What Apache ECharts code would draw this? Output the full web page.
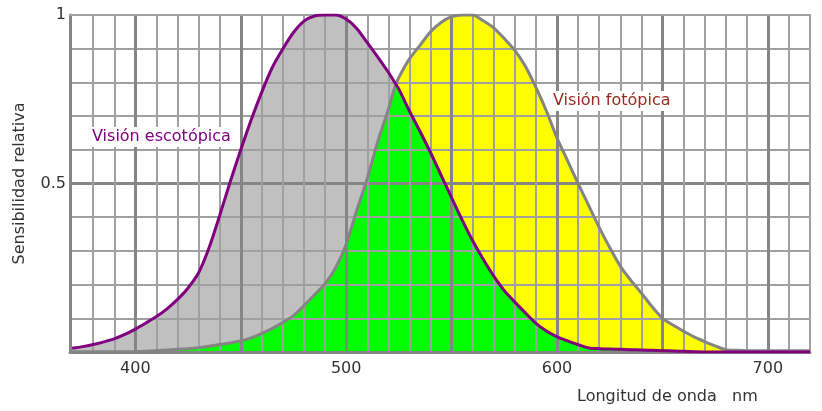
<!DOCTYPE html>
<html>
<head>
<meta charset="utf-8">
<title>Sensibilidad relativa del ojo</title>
<script src="https://cdn.jsdelivr.net/npm/echarts@6/dist/echarts.min.js"></script>
<style>
  html, body { margin: 0; padding: 0; background: #fff; }
  #chart { width: 822px; height: 411px; }
</style>
</head>
<body>
<div id="chart"></div>
<script>
// Wavelengths (nm), mostly every 5 nm, plus the point where both curves cross
const wavelengths = [
  370, 375, 380, 385, 390, 395, 400, 405, 410, 415, 420, 425, 430, 435, 440, 445,
  450, 455, 460, 465, 470, 475, 480, 485, 490, 495, 500, 505, 510, 515, 520, 523, 525,
  530, 535, 540, 545, 550, 555, 560, 565, 570, 575, 580, 585, 590, 595, 600, 605,
  610, 615, 620, 625, 630, 635, 640, 645, 650, 655, 660, 665, 670, 675, 680, 685,
  690, 695, 700, 705, 710, 715, 720
];

// Scotopic (night) relative sensitivity
const scotopic = [
  0.011, 0.016, 0.022, 0.030, 0.039, 0.052, 0.068, 0.086, 0.105, 0.128, 0.156, 0.190, 0.235, 0.310, 0.405, 0.505,
  0.600, 0.690, 0.772, 0.845, 0.900, 0.948, 0.982, 0.997, 1.000, 1.000, 0.988, 0.960, 0.918, 0.875, 0.830, 0.800, 0.780,
  0.715, 0.655, 0.592, 0.525, 0.458, 0.392, 0.330, 0.275, 0.225, 0.182, 0.148, 0.116, 0.085, 0.062, 0.045, 0.033,
  0.022, 0.012, 0.010, 0.009, 0.008, 0.007, 0.006, 0.005, 0.004, 0.003, 0.002, 0.001, 0.000, 0.000, 0.000, 0.000,
  0.000, 0.000, 0.000, 0.000, 0.000, 0.000, 0.000
];

// Photopic (daylight) relative sensitivity
const photopic = [
  0.001, 0.001, 0.001, 0.001, 0.001, 0.001, 0.001, 0.002, 0.004, 0.006, 0.008, 0.010, 0.013, 0.017, 0.022, 0.027,
  0.033, 0.042, 0.055, 0.070, 0.088, 0.108, 0.138, 0.170, 0.203, 0.250, 0.320, 0.420, 0.515, 0.625, 0.720, 0.785, 0.815,
  0.870, 0.910, 0.950, 0.978, 0.995, 1.000, 1.000, 0.983, 0.962, 0.930, 0.895, 0.848, 0.785, 0.715, 0.635, 0.568,
  0.500, 0.435, 0.370, 0.310, 0.255, 0.213, 0.175, 0.135, 0.100, 0.080, 0.062, 0.045, 0.031, 0.018, 0.007, 0.005,
  0.004, 0.004, 0.004, 0.004, 0.004, 0.004, 0.004
];

// Axis ticks and labels
const xLabelTicks = [400, 500, 600, 700];
const xMajorGrid = [400, 450, 500, 550, 600, 650, 700];
const xMinorGrid = [380, 390, 410, 420, 430, 440, 460, 470, 480, 490, 510, 520, 530, 540,
  560, 570, 580, 590, 610, 620, 630, 640, 660, 670, 680, 690, 710];
const yLabelTicks = [0.5, 1];
const yMajorGrid = [0.5];
const yMinorGrid = [0.1, 0.2, 0.3, 0.4, 0.6, 0.7, 0.8, 0.9];

const scotopicLabel = 'Visión escotópica';
const photopicLabel = 'Visión fotópica';

const pairs = vals => wavelengths.map((w, i) => [w, vals[i]]);
// Region where both curves overlap: below the lower of the two
const overlap = wavelengths.map((w, i) => [w, Math.min(scotopic[i], photopic[i])]);

const FONT = '"DejaVu Sans", Verdana, sans-serif';
const thin = { color: '#a0a0a0', width: 2 };
const thick = { color: '#858585', width: 3 };
const SMOOTH = 0.25;

const chart = echarts.init(document.getElementById('chart'), null, { renderer: 'canvas' });

chart.setOption({
  animation: false,
  backgroundColor: '#ffffff',
  grid: { left: 70, top: 15, width: 740, height: 337, containLabel: false },
  xAxis: [
    {
      type: 'value', min: 369, max: 720, position: 'bottom',
      axisLine: { show: true, onZero: false, lineStyle: thick },
      axisTick: { show: false, customValues: xMinorGrid },
      splitLine: { show: true, lineStyle: thin },
      axisLabel: {
        show: true, customValues: xLabelTicks, margin: 9,
        color: '#333', fontSize: 16, fontFamily: FONT
      }
    },
    {
      type: 'value', min: 369, max: 720, position: 'top',
      axisLine: { show: true, onZero: false, lineStyle: thin },
      axisTick: { show: false, customValues: xMajorGrid },
      splitLine: { show: true, lineStyle: thick },
      axisLabel: { show: false }
    }
  ],
  yAxis: [
    {
      type: 'value', min: 0, max: 1, position: 'left',
      name: 'Sensibilidad relativa', nameLocation: 'middle', nameRotate: 90, nameGap: 42,
      nameTextStyle: { color: '#333', fontSize: 16, fontFamily: FONT },
      axisLine: { show: true, onZero: false, lineStyle: thick },
      axisTick: { show: false, customValues: yMinorGrid },
      splitLine: { show: true, lineStyle: thin },
      axisLabel: {
        show: true, customValues: yLabelTicks, margin: 4,
        color: '#333', fontSize: 16, fontFamily: FONT
      }
    },
    {
      type: 'value', min: 0, max: 1, position: 'right',
      axisLine: { show: true, onZero: false, lineStyle: thin },
      axisTick: { show: false, customValues: yMajorGrid },
      splitLine: { show: true, lineStyle: thick },
      axisLabel: { show: false }
    }
  ],
  series: [
    {
      type: 'line', data: pairs(scotopic), symbol: 'none', z: -3, silent: true, smooth: SMOOTH,
      lineStyle: { width: 0 }, areaStyle: { color: '#c0c0c0', opacity: 1 }
    },
    {
      type: 'line', data: pairs(photopic), symbol: 'none', z: -2, silent: true, smooth: SMOOTH,
      lineStyle: { width: 0 }, areaStyle: { color: '#ffff00', opacity: 1 }
    },
    {
      type: 'line', data: overlap, symbol: 'none', z: -1, silent: true, smooth: SMOOTH,
      lineStyle: { width: 0 }, areaStyle: { color: '#00ff00', opacity: 1 }
    },
    {
      name: photopicLabel, type: 'line', data: pairs(photopic), symbol: 'none', z: 5, smooth: SMOOTH,
      lineStyle: { color: '#848484', width: 3 }
    },
    {
      name: scotopicLabel, type: 'line', data: pairs(scotopic), symbol: 'none', z: 6, smooth: SMOOTH,
      lineStyle: { color: '#800080', width: 3 }
    }
  ],
  graphic: [
    {
      type: 'text', z: 20, left: 88, top: 127,
      style: {
        text: scotopicLabel, fill: '#800080', font: '16px ' + FONT,
        backgroundColor: '#ffffff', padding: [2, 4, 2, 4]
      }
    },
    {
      type: 'text', z: 20, left: 549, top: 91,
      style: {
        text: photopicLabel, fill: '#9a2a1e', font: '16px ' + FONT,
        backgroundColor: '#ffffff', padding: [2, 4, 2, 4]
      }
    },
    {
      type: 'text', z: 20, left: 577, top: 389,
      style: { text: 'Longitud de onda   nm', fill: '#333', font: '16px ' + FONT }
    }
  ]
});
</script>
</body>
</html>
